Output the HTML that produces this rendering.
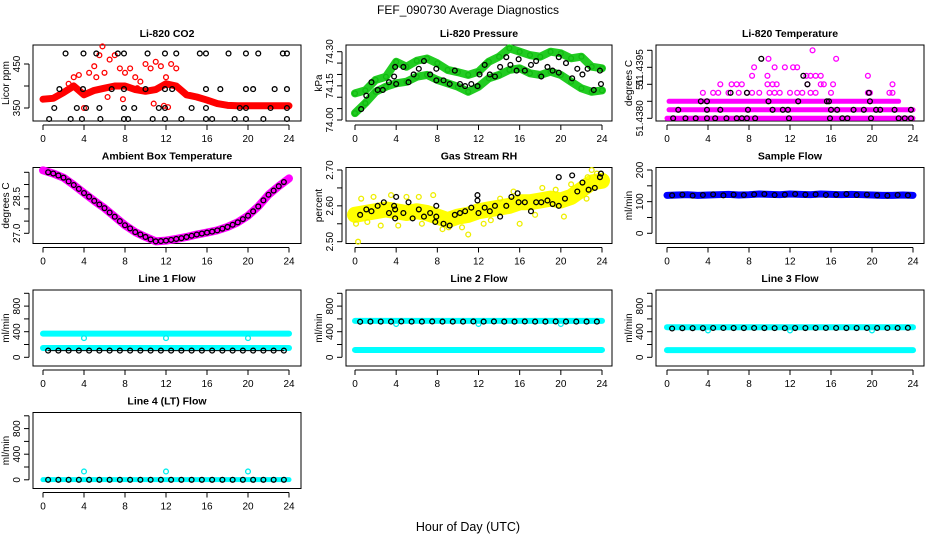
<!DOCTYPE html>
<html><head><meta charset="utf-8">
<style>
html,body{margin:0;padding:0;background:#fff;}
svg{display:block;font-family:"Liberation Sans",Arial,sans-serif;}
</style></head>
<body>
<svg id="chart" width="936" height="540" viewBox="0 0 936 540" xmlns="http://www.w3.org/2000/svg">
<rect width="936" height="540" fill="#fff"/>
<text x="468" y="14" text-anchor="middle" font-size="12">FEF_090730  Average Diagnostics</text>
<text x="468" y="531" text-anchor="middle" font-size="12.5">Hour of Day (UTC)</text>
</svg>
<script>
// ---------- data ----------
const hours=[0,1,2,3,4,5,6,7,8,9,10,11,12,13,14,15,16,17,18,19,20,21,22,23,24];
const halfHours=[0.5,1.5,2.5,3.5,4.5,5.5,6.5,7.5,8.5,9.5,10.5,11.5,12.5,13.5,14.5,15.5,16.5,17.5,18.5,19.5,20.5,21.5,22.5,23.5];
const xTicks=[0,4,8,12,16,20,24];

// CO2
const co2Main=[370,372,385,400,380,390,395,400,400,392,388,392,405,400,380,375,368,360,356,355,355,355,355,355,355];
const co2ScatterX=[3,3.5,4.5,5,5.2,5.5,5.8,6,6.5,7,7.5,8,8.5,9,9.5,10,10.5,11,11.5,12,12.5,13,6.3,7.8,10.8,11.8,12.2,4,2.5,9.2];
const co2ScatterY=[420,425,430,445,420,470,490,430,460,470,440,430,440,420,410,450,440,455,445,420,450,440,375,370,360,355,352,350,405,395];
const co2BlackX=[0.6,1.1,1.6,2.2,2.7,3.3,3.8,3.9,3.95,4.2,5.2,5.5,5.6,6.7,7.3,7.9,7.9,7.9,7.9,8.3,8.9,10.0,10.2,10.7,11.3,11.9,11.9,11.9,11.9,13.0,12.6,13.5,14.5,15.3,15.9,15.9,15.9,15.9,16.5,17.3,18.1,18.7,19.2,19.8,19.8,19.8,19.8,20.5,21.0,21.5,22.2,22.6,23.4,23.8,23.8,23.8,23.8];
const co2BlackY=[325,350,393,474,325,350,325,393,474,350,474,350,325,393,474,474,393,350,325,325,350,393,474,325,350,474,393,350,325,474,393,325,350,474,474,393,350,325,325,393,474,325,350,474,393,350,325,393,474,325,350,393,474,474,393,350,325];

// Pressure
const presLower=[74.03,74.074,74.124,74.146,74.161,74.168,74.19,74.198,74.176,74.161,74.146,74.124,74.146,74.183,74.198,74.22,74.227,74.205,74.198,74.212,74.198,74.168,74.139,74.124,74.13];
const presUpper=[74.117,74.13,74.176,74.19,74.256,74.234,74.26,74.27,74.249,74.22,74.21,74.198,74.212,74.256,74.278,74.315,74.30,74.285,74.278,74.30,74.293,74.271,74.278,74.234,74.227];
const presBlackX=[0.6,1.1,1.6,2.2,2.7,3.3,3.8,3.9,4,4.7,5.2,5.7,6.2,6.7,7.3,7.9,7.9,8.6,9.2,9.7,10.2,10.7,11.3,11.9,12.1,12.6,13.1,13.6,14.1,14.7,15.1,15.7,15.9,16.5,17.1,17.6,18.1,18.7,19.2,19.8,19.8,20.5,21.1,21.6,22.1,22.6,23.2,23.8,23.9];
const presBlackY=[74.048,74.107,74.166,74.132,74.132,74.166,74.191,74.233,74.158,74.233,74.166,74.2,74.225,74.259,74.2,74.174,74.225,74.174,74.158,74.217,74.158,74.149,74.158,74.149,74.2,74.242,74.2,74.191,74.233,74.276,74.242,74.217,74.267,74.217,74.242,74.259,74.191,74.233,74.217,74.276,74.208,74.25,74.183,74.225,74.2,74.225,74.132,74.217,74.158];

// Li-820 temperature (values in degrees C)
const tempRowY=[51.438,51.43825,51.4385];
const tempRowStart=[0,0.2,0.2];
const tempRowEnd=[24,24,22.6];
const tempMagX=[3.5,4.5,5,6,7,7.8,8.3,9,10,10.5,11,12,12.7,13.2,14,14.5,16,19.6,19.8,21.7,22,5.2,6.3,6.8,7.3,9.8,10.3,10.7,13.7,15,15.3,16.2,22,8.3,9.8,13.6,14,14.5,15,19.6,8.5,10.5,11.5,12.3,12.7,9.9,16.5,14.2];
const tempMagY=[51.43875,51.43875,51.43875,51.43875,51.43875,51.43875,51.43875,51.43875,51.43875,51.43875,51.43875,51.43875,51.43875,51.43875,51.43875,51.43875,51.43875,51.43875,51.43875,51.43875,51.43875,51.439,51.439,51.439,51.439,51.439,51.439,51.439,51.439,51.439,51.439,51.439,51.439,51.43925,51.43925,51.43925,51.43925,51.43925,51.43925,51.43925,51.4395,51.4395,51.4395,51.4395,51.4395,51.43975,51.43975,51.44];
const tempBlackX=[9.2,13.3,13.7,6.2,7.8,19.7,3.3,3.9,9.9,12.8,15.6,15.8,19.8,1.1,3.9,5.2,7.9,10.3,11.3,11.8,16,16.6,18.2,19.2,20.4,20.8,22.2,23.8,0.6,1.8,2.8,3.9,4.7,5.8,6.8,7.3,7.8,8.6,11.9,15.9,17.1,17.6,19.9,22.6,23.2,23.8];
const tempBlackY=[51.43975,51.43925,51.439,51.43875,51.43875,51.43875,51.4385,51.4385,51.4385,51.4385,51.4385,51.4385,51.4385,51.43825,51.43825,51.43825,51.43825,51.43825,51.43825,51.43825,51.43825,51.43825,51.43825,51.43825,51.43825,51.43825,51.43825,51.43825,51.438,51.438,51.438,51.438,51.438,51.438,51.438,51.438,51.438,51.438,51.438,51.438,51.438,51.438,51.438,51.438,51.438,51.438];

// Ambient box temperature
const ambient=[29.58,29.45,29.28,28.98,28.65,28.33,28.03,27.68,27.33,27.05,26.85,26.67,26.7,26.77,26.85,26.95,27.03,27.12,27.26,27.45,27.72,28.1,28.58,28.93,29.25];
const ambientBlack=[29.5,29.37,29.13,28.82,28.5,28.18,27.85,27.5,27.2,26.95,26.75,26.68,26.73,26.8,26.9,26.99,27.07,27.19,27.35,27.58,27.9,28.35,28.75,29.1];

// Gas stream RH
const rhMain=[2.575,2.58,2.585,2.59,2.585,2.58,2.585,2.58,2.57,2.56,2.57,2.575,2.585,2.59,2.595,2.60,2.61,2.61,2.615,2.62,2.615,2.625,2.645,2.665,2.67];
const rhScatterX=[0.3,0.1,0.6,1.8,2.5,3.5,4.2,6.2,6.5,7.6,8.5,9.1,10.4,11,12.5,14.1,15.4,16,17.5,18.2,19.5,20.3,21,22.6,23,23.5,22.5,1.2,5,13.2];
const rhScatterY=[2.5,2.55,2.62,2.625,2.545,2.63,2.545,2.625,2.55,2.63,2.535,2.54,2.54,2.52,2.55,2.62,2.64,2.55,2.575,2.65,2.645,2.57,2.66,2.68,2.7,2.69,2.62,2.555,2.625,2.56];
const rhBlackX=[0.5,1.1,1.6,2.2,2.8,3.3,3.8,3.9,3.9,4,4.7,5.2,5.6,6.2,6.7,7.3,7.9,7.9,7.8,8.6,9.2,9.7,10.2,10.7,11.3,11.9,11.9,12,12.6,13.1,13.6,14.1,14.7,15.2,15.8,15.9,16.5,17.1,17.6,18.1,18.7,19.2,19.8,19.8,20.4,21.1,21.6,22.1,22.7,23.3,23.8,23.9];
const rhBlackY=[2.575,2.59,2.585,2.6,2.61,2.58,2.6,2.59,2.565,2.625,2.58,2.61,2.565,2.59,2.57,2.58,2.6,2.57,2.555,2.55,2.545,2.575,2.58,2.585,2.595,2.63,2.615,2.58,2.595,2.585,2.6,2.57,2.6,2.625,2.635,2.61,2.61,2.585,2.61,2.61,2.615,2.605,2.6,2.68,2.62,2.685,2.64,2.665,2.645,2.65,2.68,2.69];

// Sample flow
const sampleFlow=[120,121,122,120,121,122,123,121,122,124,123,122,124,123,122,124,123,122,123,122,121,120,120,121,120];
const sampleBlack=[120,122,119,121,123,120,122,121,123,124,121,122,124,122,123,121,122,124,121,122,120,119,121,120];

// Line flows
const line1Upper=[370,370,370,370,370,370,370,370,370,370,370,370,370,370,370,370,370,370,370,370,370,370,370,370,370];
const line1Lower=[146,146,146,146,146,146,146,146,146,146,146,146,146,146,146,146,146,146,146,146,146,146,146,146,146];
const line1Black=[105,105,105,105,105,105,105,105,105,105,105,105,105,105,105,105,105,105,105,105,105,105,105,105];
const line1DipX=[4,12,20];
const line1DipY=[300,300,300];

const line2Upper=[570,570,570,570,570,570,570,570,570,570,570,570,570,570,570,570,570,570,570,570,570,570,570,570,570];
const line2Lower=[115,115,115,115,115,115,115,115,115,115,115,115,115,115,115,115,115,115,115,115,115,115,115,115,115];
const line2Black=[555,558,558,558,560,558,558,560,558,558,558,560,558,560,558,558,560,558,558,560,558,558,558,558];
const line2DipX=[4,12,20];
const line2DipY=[520,520,520];

const line3Upper=[470,470,470,470,470,470,470,470,470,470,470,470,470,470,470,470,470,470,470,470,470,470,470,470,470];
const line3Lower=[112,112,112,112,112,112,112,112,112,112,112,112,112,112,112,112,112,112,112,112,112,112,112,112,112];
const line3Black=[450,455,455,455,458,458,457,457,458,457,456,456,457,457,458,458,458,457,457,458,458,458,458,460];
const line3DipX=[4,12,20];
const line3DipY=[420,420,420];

const line4Cyan=[2,2,2,2,2,2,2,2,2,2,2,2,2,2,2,2,2,2,2,2,2,2,2,2,2];
const line4Black=[0,0,0,0,0,0,0,0,0,0,0,0,0,0,0,0,0,0,0,0,0,0,0,0];
const line4SpikeX=[4,12,20];
const line4SpikeY=[130,130,130];

// tick labels
const co2Ticks=[350,400,450]; const co2Labels=['350','','450'];
const presTicks=[74.00,74.05,74.10,74.15,74.20,74.25,74.30]; const presLabels=['74.00','','','74.15','','','74.30'];
const tempTicks=[51.438,51.4385,51.439,51.4395,51.44]; const tempLabels=['51.4380','','51','51.4395',''];
const ambTicks=[27.0,27.5,28.0,28.5,29.0,29.5]; const ambLabels=['27.0','','','28.5','',''];
const rhTicks=[2.50,2.55,2.60,2.65,2.70]; const rhLabels=['2.50','','2.60','','2.70'];
const sfTicks=[0,50,100,150,200]; const sfLabels=['0','','100','','200'];
const lfTicks=[0,200,400,600,800,1000]; const lfLabels=['0','','400','','800',''];

// ---------- layout ----------
const svg=document.getElementById('chart');
const NS='http://www.w3.org/2000/svg';
const cols=[{l:33,r:301,x0:43,x1:289},{l:346,r:612,x0:355,x1:602},{l:656,r:924,x0:667,x1:913}];
const rowTop=[45,167.5,290,412.5];
const BH=76;

function el(tag,attrs,parent){const e=document.createElementNS(NS,tag);for(const k in attrs)e.setAttribute(k,attrs[k]);(parent||svg).appendChild(e);return e;}

function makePanel(name,col,row,title,ylab,v0,p0,v1,p1,ticks,labels){
  const c=cols[col],top=rowTop[row],bot=top+BH;
  const g=el('g',{});
  
  
  const sx=t=>c.x0+(t/24)*(c.x1-c.x0);
  const sy=v=>p0+(v-v0)*(p1-p0)/(v1-v0);
  const box=el('rect',{x:c.l,y:top,width:c.r-c.l,height:BH,fill:'none',stroke:'#000','stroke-width':1},g);
  
  
  const tt=el('text',{x:(c.l+c.r)/2,y:top-8,'text-anchor':'middle','font-size':10.5,'font-weight':'bold'},g);
  tt.textContent=title;
  
  
  const xa=el('g',{},g);
  
  
  el('line',{x1:sx(xTicks[0]),x2:sx(xTicks[xTicks.length-1]),y1:bot+4,y2:bot+4,stroke:'#000'},xa);
  xTicks.forEach(t=>{
    el('line',{x1:sx(t),x2:sx(t),y1:bot+4,y2:bot+9,stroke:'#000'},xa);
    const lb=el('text',{x:sx(t),y:bot+21,'text-anchor':'middle','font-size':10},xa);
    lb.textContent=String(t);
    
    
  });
  const ya=el('g',{},g);
  
  
  el('line',{x1:c.l-4,x2:c.l-4,y1:sy(ticks[0]),y2:sy(ticks[ticks.length-1]),stroke:'#000'},ya);
  ticks.forEach((t,i)=>{
    const y=sy(t);
    el('line',{x1:c.l-9,x2:c.l-4,y1:y,y2:y,stroke:'#000'},ya);
    if(labels[i]){
      const lb=el('text',{x:0,y:0,'text-anchor':'middle','font-size':10,transform:`translate(${c.l-13},${y}) rotate(-90)`},ya);
      lb.textContent=labels[i];
      
      
    }
  });
  const yl=el('text',{x:0,y:0,'text-anchor':'middle','font-size':10,transform:`translate(${c.l-24},${top+BH/2}) rotate(-90)`},g);
  yl.textContent=ylab;
  
  
  const marks=el('g',{},g);
  
  
  return {g:marks,sx,sy};
}
function dots(P,xs,ys,color,name,r){
  xs.forEach((x,i)=>{
    const d=el('circle',{cx:P.sx(x),cy:P.sy(ys[i]),r:r||2.4,fill:'none',stroke:color,'stroke-width':1.3},P.g);
    
    
  });
}
function band(P,xs,ys,color,w,name){
  const pts=xs.map((x,i)=>P.sx(x)+','+P.sy(ys[i])).join(' ');
  const b=el('polyline',{points:pts,fill:'none',stroke:color,'stroke-width':w,'stroke-linecap':'round','stroke-linejoin':'round'},P.g);
  
  
}

let P=makePanel('co2',0,0,'Li-820 CO2','Licor ppm',350,108,450,64,co2Ticks,co2Labels);
band(P,hours,co2Main,'#ff0000',7,'co2-band');
dots(P,hours,co2Main,'#ff0000','co2-point');
dots(P,co2ScatterX,co2ScatterY,'#ff0000','co2-scatter-point');
dots(P,co2BlackX,co2BlackY,'#000','co2-average-point');

P=makePanel('pressure',1,0,'Li-820 Pressure','kPa',74.0,120,74.3,51.7,presTicks,presLabels);
band(P,hours,presLower,'#22cc22',8,'pressure-lower-band');
band(P,hours,presUpper,'#22cc22',8,'pressure-upper-band');
dots(P,hours,presLower,'#11bb11','pressure-point');
dots(P,hours,presUpper,'#11bb11','pressure-point');
dots(P,presBlackX,presBlackY,'#000','pressure-average-point');

P=makePanel('li820-temp',2,0,'Li-820 Temperature','degrees C',51.438,118.3,51.4395,67.3,tempTicks,tempLabels);
tempRowY.forEach((v,i)=>band(P,[tempRowStart[i],tempRowEnd[i]],[v,v],'#ff00ff',5,'li820-temp-row'));
dots(P,tempMagX,tempMagY,'#ff00ff','li820-temp-point');
dots(P,tempBlackX,tempBlackY,'#000','li820-temp-average-point');

P=makePanel('ambient-temp',0,1,'Ambient Box Temperature','degrees C',27.0,233.3,28.5,196.7,ambTicks,ambLabels);
band(P,hours,ambient,'#ff00ff',8,'ambient-temp-band');
dots(P,halfHours,ambientBlack,'#000','ambient-temp-average-point');
dots(P,hours.slice(1,24),ambient.slice(1,24),'#000','ambient-temp-average-point');

P=makePanel('gas-rh',1,1,'Gas Stream RH','percent',2.50,241.7,2.70,170,rhTicks,rhLabels);
band(P,hours,rhMain,'#ffff00',16,'gas-rh-band');
dots(P,rhScatterX,rhScatterY,'#eeee00','gas-rh-scatter-point');
dots(P,rhBlackX,rhBlackY,'#000','gas-rh-average-point');

P=makePanel('sample-flow',2,1,'Sample Flow','ml/min',0,233.3,200,170,sfTicks,sfLabels);
band(P,hours,sampleFlow,'#0000ff',7,'sample-flow-band');
dots(P,halfHours,sampleBlack,'#000','sample-flow-average-point');

P=makePanel('line1-flow',0,2,'Line 1 Flow','ml/min',0,357.3,1000,293.3,lfTicks,lfLabels);
band(P,hours,line1Upper,'#00ffff',6,'line1-upper-band');
band(P,hours,line1Lower,'#00ffff',6,'line1-lower-band');
dots(P,line1DipX,line1DipY,'#00eeee','line1-dip-point');
band(P,halfHours,line1Black,'#000',1,'line1-average-line');
dots(P,halfHours,line1Black,'#000','line1-average-point');

P=makePanel('line2-flow',1,2,'Line 2 Flow','ml/min',0,357.3,1000,293.3,lfTicks,lfLabels);
band(P,hours,line2Upper,'#00ffff',6,'line2-upper-band');
band(P,hours,line2Lower,'#00ffff',6,'line2-lower-band');
dots(P,line2DipX,line2DipY,'#00eeee','line2-dip-point');
dots(P,halfHours,line2Black,'#000','line2-average-point');

P=makePanel('line3-flow',2,2,'Line 3 Flow','ml/min',0,357.3,1000,293.3,lfTicks,lfLabels);
band(P,hours,line3Upper,'#00ffff',6,'line3-upper-band');
band(P,hours,line3Lower,'#00ffff',6,'line3-lower-band');
dots(P,line3DipX,line3DipY,'#00eeee','line3-dip-point');
dots(P,halfHours,line3Black,'#000','line3-average-point');

P=makePanel('line4-flow',0,3,'Line 4 (LT) Flow','ml/min',0,479.8,1000,415.8,lfTicks,lfLabels);
band(P,hours,line4Cyan,'#00ffff',5,'line4-band');
dots(P,line4SpikeX,line4SpikeY,'#00eeee','line4-spike-point');
dots(P,halfHours,line4Black,'#000','line4-average-point');
</script>
</body></html>
